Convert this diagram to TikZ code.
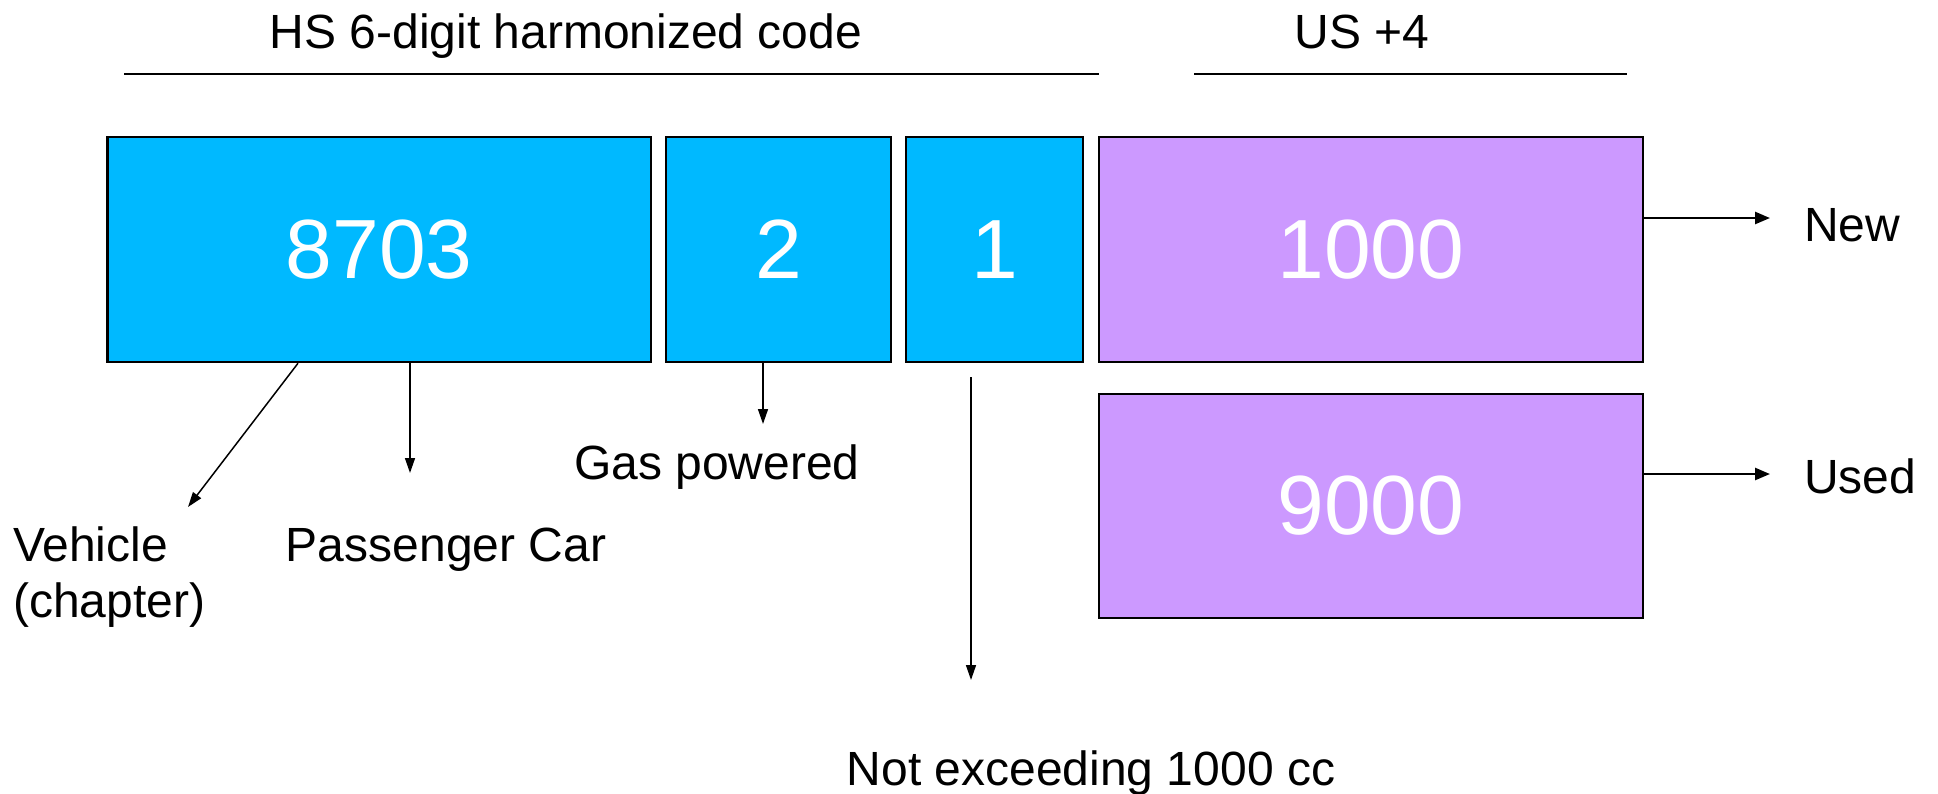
\documentclass[tikz,border=0pt]{standalone}
\usepackage{fontspec}
\setmainfont{Liberation Sans}
\usetikzlibrary{arrows.meta}
\definecolor{hsblue}{RGB}{0,185,255}
\definecolor{uspurple}{RGB}{204,153,255}
\tikzset{
  codebox/.style={draw=black, line width=2.5pt, inner sep=0pt, text=white,
    font=\fontsize{84}{96}\selectfont},
  hsbox/.style={codebox, fill=hsblue},
  usbox/.style={codebox, fill=uspurple},
  lbl/.style={inner sep=0pt, font=\fontsize{48}{56}\selectfont, anchor=base},
  thinarrow/.style={line width=1.5pt, -{Triangle[length=15pt,width=10pt]}},
  thickarrow/.style={line width=2.5pt, -{Triangle[length=15pt,width=12pt]}},
  rule/.style={line width=2.5pt}
}
\begin{document}
\begin{tikzpicture}[x=1pt,y=-1pt]
\useasboundingbox (0,0) rectangle (1938,793);
% header labels and rules
\node[lbl] (hs) at (566,48) {HS 6-digit harmonized code};
\node[lbl] (us) at (1362,48) {US +4};
\coordinate (hsL) at (124,74);
\coordinate (hsR) at (1099,74);
\coordinate (usL) at (1194,74);
\coordinate (usR) at (1627,74);
\draw[rule] (hsL) -- (hsR);
\draw[rule] (usL) -- (usR);
% boxes
\node[hsbox, minimum width=543.5pt, minimum height=225pt] (b8703) at (379.25,249.5) {8703};
\node[hsbox, minimum width=225pt, minimum height=225pt] (b2) at (778.5,249.5) {2};
\node[hsbox, minimum width=177pt, minimum height=225pt] (b1) at (994.5,249.5) {1};
\node[usbox, minimum width=544pt, minimum height=225pt] (b1000) at (1371,249.5) {1000};
\node[usbox, minimum width=544pt, minimum height=224pt] (b9000) at (1371,506) {9000};
% labels
\node[lbl, anchor=base west, align=left] (veh) at (13,617) {Vehicle\\(chapter)};
\node[lbl] (pass) at (446,561) {Passenger Car};
\node[lbl] (gas) at (717,479) {Gas powered};
\node[lbl] (notex) at (1091,785) {Not exceeding 1000 cc};
\node[lbl, anchor=base west] (new) at (1804,241) {New};
\node[lbl, anchor=base west] (used) at (1804,493) {Used};
% arrow end points
\coordinate (vehTip) at (188,507);
\coordinate (passTip) at (410,473);
\coordinate (gasTip) at (763,424);
\coordinate (oneTop) at (971,377);
\coordinate (oneTip) at (971,680);
\coordinate (newTip) at (1770,218);
\coordinate (usedTip) at (1770,474);
% connectors
\draw[thinarrow] ([xshift=191.75pt]b8703.south west) -- (vehTip);
\draw[thinarrow] ([xshift=303.75pt]b8703.south west) -- (passTip);
\draw[thinarrow] ([xshift=98.25pt]b2.south west) -- (gasTip);
\draw[thinarrow] (oneTop) -- (oneTip);
\draw[thickarrow] (b1000.east |- newTip) -- (newTip);
\draw[thickarrow] (b9000.east |- usedTip) -- (usedTip);
\end{tikzpicture}
\end{document}
